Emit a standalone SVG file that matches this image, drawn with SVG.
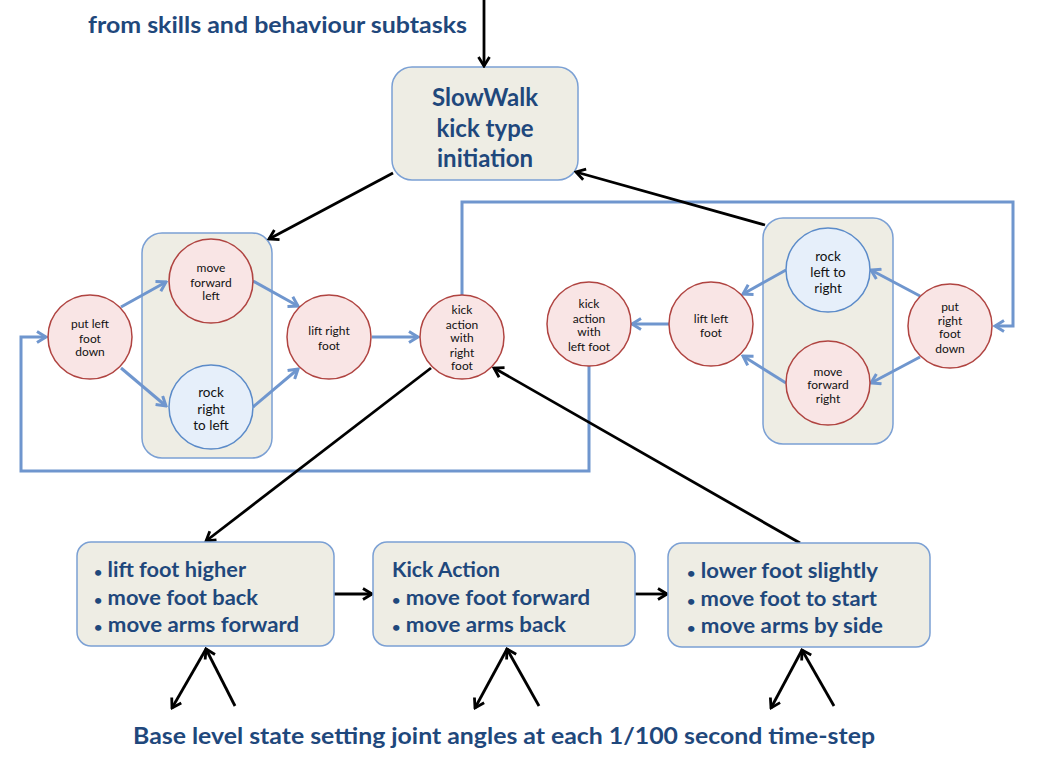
<svg xmlns="http://www.w3.org/2000/svg" width="1040" height="768" viewBox="0 0 1040 768">
<style>
.bg{fill:#ffffff}
.cont{fill:#EEEDE4;stroke:#7BA0D4;stroke-width:1.5}
.pink{fill:#F9E5E5;stroke:#B04441;stroke-width:1.5}
.blue{fill:#E6EFFA;stroke:#5B8BC9;stroke-width:1.5}
.box{fill:#EEEDE4;stroke:#7BA0D4;stroke-width:1.5}
.ct{font-family:Lato,"Liberation Sans",sans-serif;font-size:12px;fill:#111;text-anchor:middle}
.ctl{font-family:Lato,"Liberation Sans",sans-serif;font-size:13.5px;fill:#111;text-anchor:middle}
.hd{font-family:Lato,"Liberation Sans",sans-serif;font-weight:bold;fill:#1F487C}
.bt{font-size:13px}
.bl{fill:none;stroke:#000;stroke-width:2.8}
.bu{fill:none;stroke:#6F96CE;stroke-width:3}
</style>
<defs>
<marker id="ab" markerUnits="userSpaceOnUse" viewBox="0 0 14 14" markerWidth="14" markerHeight="14" refX="12" refY="7" orient="auto">
<path d="M3,1.5 L12,7 L3,12.5" fill="none" stroke="#000" stroke-width="2.8"/>
</marker>
<marker id="au" markerUnits="userSpaceOnUse" viewBox="0 0 14 14" markerWidth="14" markerHeight="14" refX="12" refY="7" orient="auto">
<path d="M3,1.5 L12,7 L3,12.5" fill="none" stroke="#6F96CE" stroke-width="3"/>
</marker>
</defs>
<rect class="bg" x="0" y="0" width="1040" height="768"/>

<text id="label-top" class="hd" x="88" y="33" font-size="22" textLength="379" lengthAdjust="spacingAndGlyphs">from skills and behaviour subtasks</text>

<g id="slowwalk">
<rect class="box" x="392" y="67" width="186" height="113" rx="20"/>
<text class="hd" x="485" y="106" font-size="24" text-anchor="middle">SlowWalk</text>
<text class="hd" x="485" y="137" font-size="24" text-anchor="middle">kick type</text>
<text class="hd" x="485" y="167" font-size="24" text-anchor="middle">initiation</text>
</g>

<g id="left-group">
<rect class="cont" x="142" y="233" width="130" height="225" rx="20"/>
</g>
<g id="right-group">
<rect class="cont" x="763" y="218" width="130" height="226" rx="20"/>
</g>

<g id="connectors">
<polyline class="bu" points="462,295 462,202 1013,202 1013,326 995,326" marker-end="url(#au)"/>
<polyline class="bu" points="589,366 589,471 21,471 21,337 46,337" marker-end="url(#au)"/>
<line class="bu" x1="121" y1="307" x2="166" y2="282" marker-end="url(#au)"/>
<line class="bu" x1="121" y1="368" x2="166" y2="406" marker-end="url(#au)"/>
<line class="bu" x1="253" y1="281" x2="298" y2="306" marker-end="url(#au)"/>
<line class="bu" x1="253" y1="407" x2="298" y2="369" marker-end="url(#au)"/>
<line class="bu" x1="372" y1="337" x2="418" y2="337" marker-end="url(#au)"/>
<line class="bu" x1="920" y1="296" x2="871" y2="270" marker-end="url(#au)"/>
<line class="bu" x1="920" y1="357" x2="871" y2="383" marker-end="url(#au)"/>
<line class="bu" x1="786" y1="270" x2="743" y2="294" marker-end="url(#au)"/>
<line class="bu" x1="786" y1="383" x2="743" y2="356" marker-end="url(#au)"/>
<line class="bu" x1="669" y1="324" x2="632" y2="324" marker-end="url(#au)"/>
<line class="bl" x1="484" y1="0" x2="484" y2="66" marker-end="url(#ab)"/>
<line class="bl" x1="393" y1="173" x2="269" y2="239" marker-end="url(#ab)"/>
<line class="bl" x1="765" y1="225" x2="576" y2="172" marker-end="url(#ab)"/>
<line class="bl" x1="431" y1="368" x2="206" y2="541" marker-end="url(#ab)"/>
<line class="bl" x1="800" y1="543" x2="494" y2="368" marker-end="url(#ab)"/>
<line class="bl" x1="334" y1="594" x2="372" y2="594" marker-end="url(#ab)"/>
<line class="bl" x1="635" y1="594" x2="667" y2="594" marker-end="url(#ab)"/>
<line class="bl" x1="206" y1="649" x2="172" y2="708" marker-end="url(#ab)"/>
<line class="bl" x1="235" y1="706" x2="206" y2="649" marker-end="url(#ab)"/>
<line class="bl" x1="507" y1="649" x2="475" y2="708" marker-end="url(#ab)"/>
<line class="bl" x1="539" y1="706" x2="507" y2="649" marker-end="url(#ab)"/>
<line class="bl" x1="802" y1="650" x2="771" y2="708" marker-end="url(#ab)"/>
<line class="bl" x1="834" y1="706" x2="802" y2="650" marker-end="url(#ab)"/>
</g>

<g id="put-left-foot-down">
<circle class="pink" cx="90" cy="337" r="42"/>
<text class="ct" x="90" y="328">put left</text>
<text class="ct" x="90" y="343">foot</text>
<text class="ct" x="90" y="356">down</text>
</g>
<g id="move-forward-left">
<circle class="pink" cx="211" cy="281" r="42"/>
<text class="ct" x="211" y="272">move</text>
<text class="ct" x="211" y="287">forward</text>
<text class="ct" x="211" y="300">left</text>
</g>
<g id="rock-right-to-left">
<circle class="blue" cx="211" cy="407" r="42"/>
<text class="ctl" x="211" y="397">rock</text>
<text class="ctl" x="211" y="414">right</text>
<text class="ctl" x="211" y="430">to left</text>
</g>
<g id="lift-right-foot">
<circle class="pink" cx="329" cy="337" r="42"/>
<text class="ct" x="329" y="335">lift right</text>
<text class="ct" x="329" y="350">foot</text>
</g>
<g id="kick-right">
<circle class="pink" cx="462" cy="337" r="42"/>
<text class="ct" x="462" y="314">kick</text>
<text class="ct" x="462" y="329">action</text>
<text class="ct" x="462" y="342">with</text>
<text class="ct" x="462" y="357">right</text>
<text class="ct" x="462" y="370">foot</text>
</g>

<g id="rock-left-to-right">
<circle class="blue" cx="828" cy="270" r="42"/>
<text class="ctl" x="828" y="261" font-size="13">rock</text>
<text class="ctl" x="828" y="277" font-size="13">left to</text>
<text class="ctl" x="828" y="293" font-size="13">right</text>
</g>
<g id="move-forward-right">
<circle class="pink" cx="828" cy="383" r="42"/>
<text class="ct" x="828" y="376">move</text>
<text class="ct" x="828" y="389">forward</text>
<text class="ct" x="828" y="403">right</text>
</g>
<g id="put-right-foot-down">
<circle class="pink" cx="950" cy="326" r="42"/>
<text class="ct" x="950" y="311">put</text>
<text class="ct" x="950" y="325">right</text>
<text class="ct" x="950" y="338">foot</text>
<text class="ct" x="950" y="353">down</text>
</g>
<g id="lift-left-foot">
<circle class="pink" cx="711" cy="324" r="42"/>
<text class="ct" x="711" y="323">lift left</text>
<text class="ct" x="711" y="337">foot</text>
</g>
<g id="kick-left">
<circle class="pink" cx="589" cy="324" r="42"/>
<text class="ct" x="589" y="308">kick</text>
<text class="ct" x="589" y="323">action</text>
<text class="ct" x="589" y="336">with</text>
<text class="ct" x="589" y="351">left foot</text>
</g>

<g id="box-lift">
<rect class="box" x="77" y="542" width="257" height="104" rx="14"/>
<text class="hd" x="94" y="577" font-size="20" textLength="152" lengthAdjust="spacingAndGlyphs"><tspan class="bt">•</tspan> lift foot higher</text>
<text class="hd" x="94" y="605" font-size="20" textLength="164" lengthAdjust="spacingAndGlyphs"><tspan class="bt">•</tspan> move foot back</text>
<text class="hd" x="94" y="632" font-size="20" textLength="205" lengthAdjust="spacingAndGlyphs"><tspan class="bt">•</tspan> move arms forward</text>
</g>
<g id="box-kick">
<rect class="box" x="373" y="542" width="262" height="104" rx="14"/>
<text class="hd" x="392" y="577" font-size="20" textLength="108" lengthAdjust="spacingAndGlyphs">Kick Action</text>
<text class="hd" x="392" y="605" font-size="20" textLength="198" lengthAdjust="spacingAndGlyphs"><tspan class="bt">•</tspan> move foot forward</text>
<text class="hd" x="392" y="632" font-size="20" textLength="174" lengthAdjust="spacingAndGlyphs"><tspan class="bt">•</tspan> move arms back</text>
</g>
<g id="box-lower">
<rect class="box" x="668" y="543" width="262" height="104" rx="14"/>
<text class="hd" x="687" y="578" font-size="20" textLength="191" lengthAdjust="spacingAndGlyphs"><tspan class="bt">•</tspan> lower foot slightly</text>
<text class="hd" x="687" y="606" font-size="20" textLength="190" lengthAdjust="spacingAndGlyphs"><tspan class="bt">•</tspan> move foot to start</text>
<text class="hd" x="687" y="633" font-size="20" textLength="196" lengthAdjust="spacingAndGlyphs"><tspan class="bt">•</tspan> move arms by side</text>
</g>

<text id="label-bottom" class="hd" x="133" y="744" font-size="23" textLength="742" lengthAdjust="spacingAndGlyphs">Base level state setting joint angles at each 1/100 second time-step</text>
</svg>
